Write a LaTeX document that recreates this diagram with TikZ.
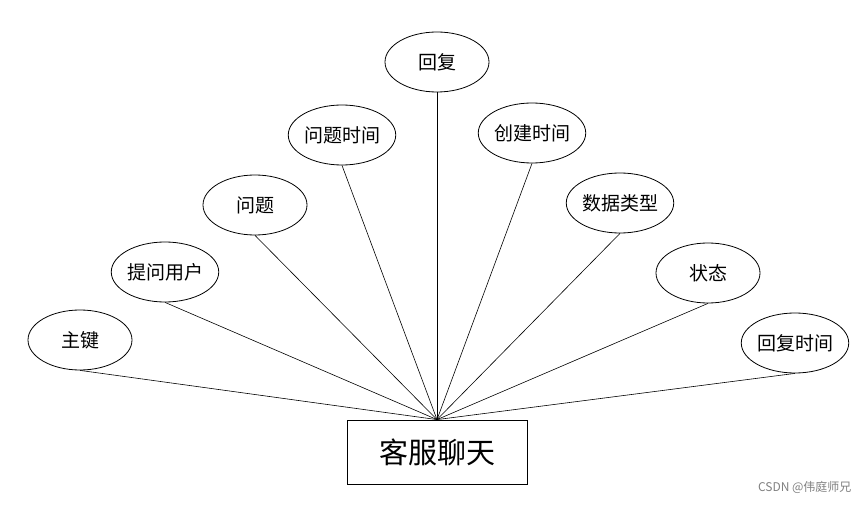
\documentclass[tikz,border=0pt]{standalone}
\usepackage{fontspec}
\setmainfont{Noto Sans CJK SC}
\usetikzlibrary{shapes.geometric}
\begin{document}
\begin{tikzpicture}[x=1pt,y=-1pt,
    attr node/.style={ellipse,draw,line width=0.8pt,minimum width=104pt,minimum height=60pt,inner sep=0pt,font=\fontsize{19}{22}\selectfont},
    main node/.style={rectangle,draw,line width=0.8pt,minimum width=180pt,minimum height=64pt,font=\fontsize{29}{34}\selectfont}]
  \useasboundingbox (0,0) rectangle (865,505);
  \node[main node] (k) at (437,452) {客服聊天};
  \node[attr node] (a1) at (80,340) {主键};
  \node[attr node] (a2) at (165,272) {提问用户};
  \node[attr node] (a3) at (255,205) {问题};
  \node[attr node] (a4) at (342,135) {问题时间};
  \node[attr node] (a5) at (437,62) {回复};
  \node[attr node] (a6) at (532,133) {创建时间};
  \node[attr node] (a7) at (620,203) {数据类型};
  \node[attr node] (a8) at (708,273) {状态};
  \node[attr node] (a9) at (795,343) {回复时间};
  \foreach \i in {1,...,9}
    \draw[line width=0.6pt] (a\i.south) -- (k.north);
  \node[text=gray,font=\fontsize{12}{14}\selectfont,anchor=east] (wm) at (855,487) {CSDN @伟庭师兄};
\end{tikzpicture}
\end{document}
